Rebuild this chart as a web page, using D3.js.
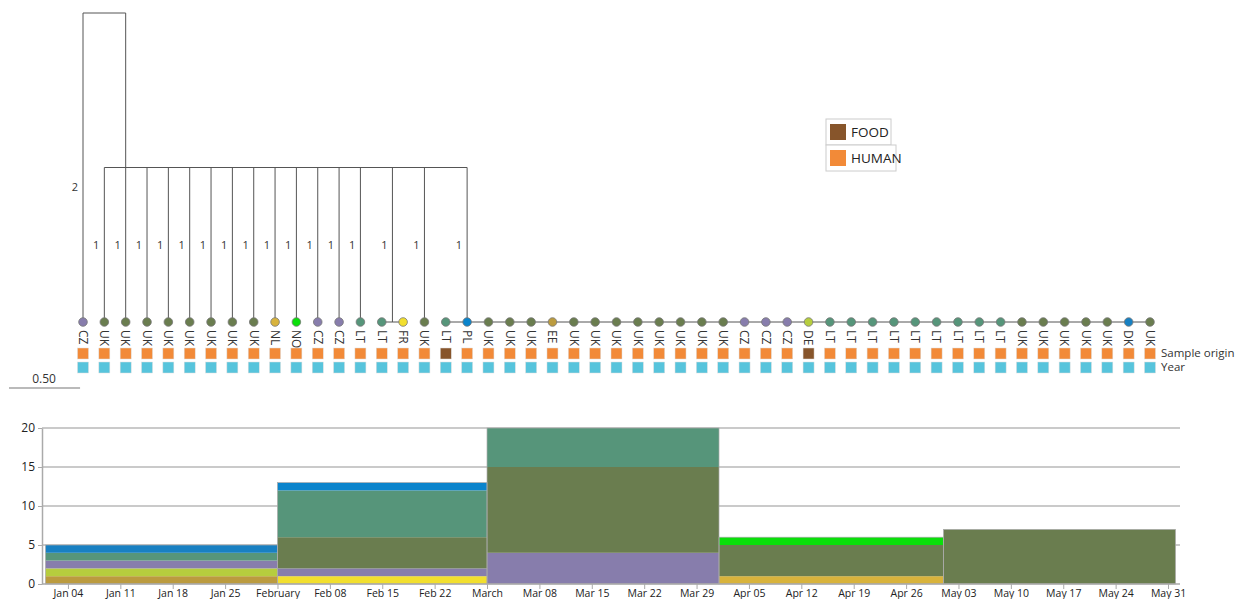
<!DOCTYPE html>
<html>
<head>
<meta charset="utf-8">
<script src="https://cdn.jsdelivr.net/npm/d3@7"></script>
<style>
  body { margin: 0; background: #fff; }
  text { font-family: "Open Sans", "Noto Sans", sans-serif; }
</style>
</head>
<body>
<div id="chart"></div>
<script>
// Data
const leafCountries = ['CZ','UK','UK','UK','UK','UK','UK','UK','UK','NL','NO','CZ','CZ','LT','LT','FR','UK','LT','PL',
  'UK','UK','UK','EE','UK','UK','UK','UK','UK','UK','UK','UK','CZ','CZ','CZ','DE',
  'LT','LT','LT','LT','LT','LT','LT','LT','LT','UK','UK','UK','UK','UK','DK','UK']
const foodLeaves = [17, 34]
const originKeys = ['FOOD', 'HUMAN']

// tree: leaf index or children, with branch length
const clusterLeaves = d3.range(17, 51).map(i => ({ leaf: i, len: 0 }))
const treeData = {
  len: 0,
  children: [
    { leaf: 0, len: 2 },
    {
      len: 1,
      children: [
        ...d3.range(1, 14).map(i => ({ leaf: i, len: 1 })),
        { len: 1, children: [{ leaf: 14, len: 0 }, { leaf: 15, len: 0 }] },
        { leaf: 16, len: 1 },
        { len: 1, children: clusterLeaves }
      ]
    }
  ]
}

const months = ['2015-01-01','2015-02-01','2015-03-01','2015-04-01','2015-05-01','2015-06-01']
const countryKeys = ['EE','NL','FR','DE','CZ','UK','LT','DK','PL','NO']
const monthCounts = {
  EE: [1, 0, 0, 0, 0],
  NL: [0, 0, 0, 1, 0],
  FR: [0, 1, 0, 0, 0],
  DE: [1, 0, 0, 0, 0],
  CZ: [1, 1, 4, 0, 0],
  UK: [0, 4, 11, 4, 7],
  LT: [1, 6, 5, 0, 0],
  DK: [1, 0, 0, 0, 0],
  PL: [0, 1, 0, 0, 0],
  NO: [0, 0, 0, 1, 0]
}
const yTicks = [0, 5, 10, 15, 20]

const countryColor = d3.scaleOrdinal()
  .domain(['CZ','UK','NL','NO','LT','FR','PL','EE','DE','DK'])
  .range(['#877dac','#6a7d4f','#d8b33c','#0adf0a','#56957a','#f2df2e','#0a84cc','#bb9b3f','#b6cd3e','#1880c2'])
const originColor = d3.scaleOrdinal().domain(originKeys).range(['#87552b','#f28a38'])

// Dimensions
const width = 1236
const height = 599

const svg = d3.select('#chart')
  .append('svg')
  .attr('width', width)
  .attr('height', height)

// ---------- tree ----------
const xLeaf = d3.scalePoint()
  .domain(d3.range(leafCountries.length))
  .range([83, 1150])

const yDist = d3.scaleLinear().domain([0, 2]).range([13, 322])

function layout(node, depth) {
  node.depth = depth
  if (node.leaf !== undefined) {
    node.x = xLeaf(node.leaf)
    return
  }
  node.children.forEach(c => layout(c, depth + c.len))
  const allLeaves = node.children.every(c => c.leaf !== undefined)
  if (node.children.length === 2 && allLeaves) {
    node.x = (node.children[0].x + node.children[1].x) / 2
  } else {
    node.x = node.children[1].x
  }
}
layout(treeData, 0)

const nodes = []
const links = []
function walk(node) {
  nodes.push(node)
  if (node.children) {
    node.children.forEach(c => {
      links.push({ parent: node, child: c })
      walk(c)
    })
  }
}
walk(treeData)

const tree = svg.append('g')

// horizontal bars
tree.selectAll('line.hbar')
  .data(nodes.filter(d => d.children))
  .join('line')
  .attr('class', 'hbar')
  .attr('x1', d => d3.min(d.children, c => c.x))
  .attr('x2', d => d3.max(d.children, c => c.x))
  .attr('y1', d => yDist(d.depth))
  .attr('y2', d => yDist(d.depth))
  .attr('stroke', '#555')
  .attr('stroke-width', 1)

// verticals
tree.selectAll('line.vbar')
  .data(links.filter(d => d.child.len > 0))
  .join('line')
  .attr('class', 'vbar')
  .attr('x1', d => d.child.x)
  .attr('x2', d => d.child.x)
  .attr('y1', d => yDist(d.parent.depth))
  .attr('y2', d => yDist(d.child.depth))
  .attr('stroke', '#555')
  .attr('stroke-width', 1)

// branch length labels (only on branches that reach the leaf row)
tree.selectAll('text.blen')
  .data(links.filter(d => d.child.len > 0 && d.child.depth === 2))
  .join('text')
  .attr('class', 'blen')
  .attr('x', d => d.child.x - 5)
  .attr('y', d => d.child.len > 1 ? yDist(d.parent.depth + 1.13) : yDist(d.parent.depth + d.child.len / 2))
  .attr('dy', '0.35em')
  .attr('text-anchor', 'end')
  .attr('font-size', 11)
  .attr('fill', '#333')
  .text(d => d.child.len)

const leaves = nodes.filter(d => d.leaf !== undefined)

// leaf dots
tree.selectAll('circle')
  .data(leaves)
  .join('circle')
  .attr('cx', d => d.x)
  .attr('cy', d => yDist(d.depth))
  .attr('r', 4.3)
  .attr('fill', d => countryColor(leafCountries[d.leaf]))
  .attr('stroke', '#777')
  .attr('stroke-width', 0.8)

// leaf labels
tree.selectAll('text.leaf')
  .data(leaves)
  .join('text')
  .attr('class', 'leaf')
  .attr('transform', d => `translate(${d.x}, 330) rotate(90)`)
  .attr('dy', '0.35em')
  .attr('font-size', 12)
  .attr('fill', '#333')
  .text(d => leafCountries[d.leaf])

// metadata squares
const sq = 11
tree.selectAll('rect.origin')
  .data(leaves)
  .join('rect')
  .attr('class', 'origin')
  .attr('x', d => d.x - sq / 2)
  .attr('y', 348)
  .attr('width', sq)
  .attr('height', sq)
  .attr('fill', d => originColor(foodLeaves.includes(d.leaf) ? 'FOOD' : 'HUMAN'))
  .attr('stroke', '#ddd')
  .attr('stroke-width', 0.5)

tree.selectAll('rect.year')
  .data(leaves)
  .join('rect')
  .attr('class', 'year')
  .attr('x', d => d.x - sq / 2)
  .attr('y', 362)
  .attr('width', sq)
  .attr('height', sq)
  .attr('fill', '#57c4dc')
  .attr('stroke', '#ddd')
  .attr('stroke-width', 0.5)

tree.append('text').attr('x', 1161).attr('y', 353).attr('dy', '0.35em')
  .attr('font-size', 11.5).attr('fill', '#333').text('Sample origin')
tree.append('text').attr('x', 1161).attr('y', 367).attr('dy', '0.35em')
  .attr('font-size', 11.5).attr('fill', '#333').text('Year')

// scale bar
tree.append('line')
  .attr('x1', 9).attr('x2', 9 + (yDist(0.5) - yDist(0)) * 0.92)
  .attr('y1', 388).attr('y2', 388)
  .attr('stroke', '#777').attr('stroke-width', 1.2)
tree.append('text').attr('x', 44).attr('y', 379).attr('dy', '0.35em')
  .attr('text-anchor', 'middle').attr('font-size', 12).attr('fill', '#333').text('0.50')

// legend
const legend = svg.append('g')
legend.selectAll('g')
  .data(originKeys)
  .join('g')
  .attr('transform', (d, i) => `translate(826, ${119 + i * 26})`)
  .each(function (d) {
    const g = d3.select(this)
    g.append('rect').attr('width', d === 'FOOD' ? 65 : 70).attr('height', 26)
      .attr('fill', '#fff').attr('stroke', '#ccc')
    g.append('rect').attr('x', 4).attr('y', 5).attr('width', 16).attr('height', 16)
      .attr('fill', originColor(d))
    g.append('text').attr('x', 25).attr('y', 13).attr('dy', '0.35em')
      .attr('font-size', 13.5).attr('fill', '#222').text(d)
  })

// ---------- stacked monthly bars ----------
const parse = d3.timeParse('%Y-%m-%d')
const monthDates = months.map(parse)
const xScale = d3.scaleTime()
  .domain([monthDates[0], monthDates[monthDates.length - 1]])
  .range([45.5, 1175.5])
const yScale = d3.scaleLinear().domain([0, 20]).range([584, 428])

const table = monthDates.slice(0, -1).map((m, i) => {
  const row = { start: m, end: monthDates[i + 1] }
  countryKeys.forEach(k => { row[k] = monthCounts[k][i] })
  return row
})
const series = d3.stack().keys(countryKeys)(table)

const chart = svg.append('g')

chart.selectAll('line.grid')
  .data(yTicks.slice(1))
  .join('line')
  .attr('class', 'grid')
  .attr('x1', 42).attr('x2', 1180)
  .attr('y1', d => yScale(d)).attr('y2', d => yScale(d))
  .attr('stroke', '#b8b8b8').attr('stroke-width', 1.5)

chart.selectAll('g.series')
  .data(series)
  .join('g')
  .attr('class', 'series')
  .attr('fill', d => countryColor(d.key))
  .selectAll('rect')
  .data(d => d.filter(s => s[1] > s[0]))
  .join('rect')
  .attr('x', d => xScale(d.data.start))
  .attr('width', d => xScale(d.data.end) - xScale(d.data.start))
  .attr('y', d => yScale(d[1]))
  .attr('height', d => yScale(d[0]) - yScale(d[1]))

// outline of each month bar
chart.selectAll('rect.outline')
  .data(table)
  .join('rect')
  .attr('class', 'outline')
  .attr('x', d => xScale(d.start))
  .attr('width', d => xScale(d.end) - xScale(d.start))
  .attr('y', d => yScale(d3.sum(countryKeys, k => d[k])))
  .attr('height', d => yScale(0) - yScale(d3.sum(countryKeys, k => d[k])))
  .attr('fill', 'none')
  .attr('stroke', '#aaa')
  .attr('stroke-width', 0.7)

// axes
const xAxis = chart.append('g')
  .attr('transform', `translate(0, ${yScale(0)})`)
  .call(d3.axisBottom(xScale).ticks(d3.timeWeek.every(1)).tickSize(5).tickSizeOuter(0))
xAxis.select('.domain').attr('d', 'M42,0H1180').attr('stroke', '#aaa').attr('stroke-width', 1.5)
xAxis.selectAll('.tick line').attr('stroke', '#aaa')
xAxis.selectAll('.tick text').attr('font-size', 10.5).attr('fill', '#222')
  .attr('font-family', '"Open Sans", sans-serif').attr('y', 6)

const yAxis = chart.append('g')
  .attr('transform', 'translate(42, 0)')
  .call(d3.axisLeft(yScale).tickValues(yTicks).tickSize(4).tickSizeOuter(0))
yAxis.select('.domain').attr('stroke', '#aaa').attr('stroke-width', 1.5)
yAxis.selectAll('.tick line').attr('stroke', '#aaa')
yAxis.selectAll('.tick text').attr('font-size', 12).attr('fill', '#222')
  .attr('font-family', '"Open Sans", sans-serif')
</script>
</body>
</html>
